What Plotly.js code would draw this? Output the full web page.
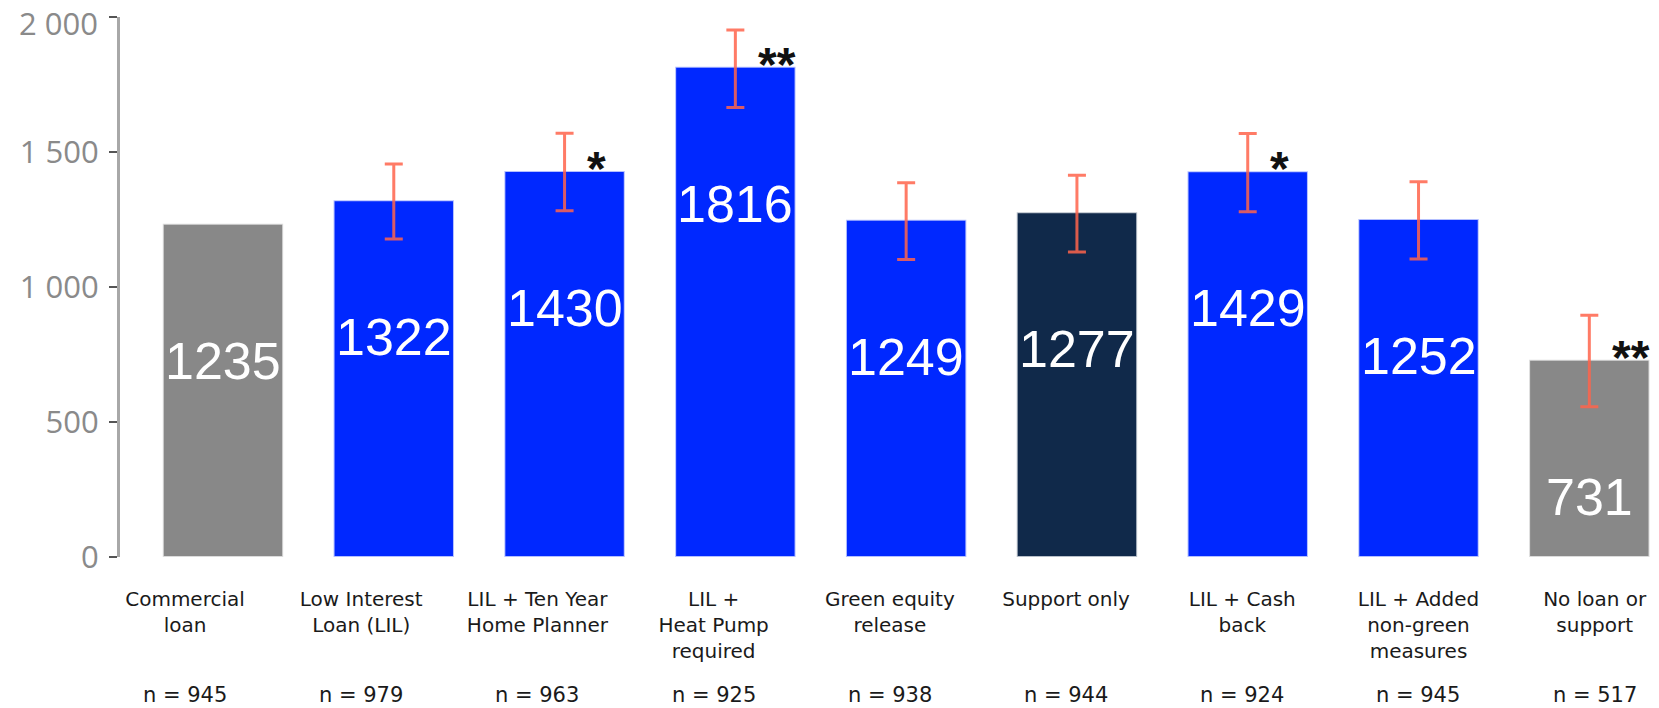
<!DOCTYPE html>
<html>
<head>
<meta charset="utf-8">
<script src="https://cdn.plot.ly/plotly-3.0.1.min.js"></script>
<style>
  html, body { margin: 0; padding: 0; background: #ffffff; }
  #chart { width: 1659px; height: 708px; }
</style>
</head>
<body>
<div id="chart"></div>
<script>
// ---- data ----
const categories = [
  "Commercial<br>loan",
  "Low Interest<br>Loan (LIL)",
  "LIL + Ten Year<br>Home Planner",
  "LIL +<br>Heat Pump<br>required",
  "Green equity<br>release",
  "Support only",
  "LIL + Cash<br>back",
  "LIL + Added<br>non-green<br>measures",
  "No loan or<br>support"
];
const values = [1235, 1322, 1430, 1816, 1249, 1277, 1429, 1252, 731];
const ciLow  = [NaN, 1178, 1283, 1665, 1102, 1130, 1279, 1104, 557];
const ciHigh = [NaN, 1456, 1570, 1952, 1386, 1414, 1569, 1390, 896];
const sampleSizes = [945, 979, 963, 925, 938, 944, 924, 945, 517];
const significance = ["", "", "*", "**", "", "", "*", "", "**"];
const yTickValues = [0, 500, 1000, 1500, 2000];
const yTickLabels = ["0", "500", "1 000", "1 500", "2 000"];

// ---- styles ----
const GREY = "#888888", BLUE = "#0028ff", NAVY = "#10294a";
const barColors = [GREY, BLUE, BLUE, BLUE, BLUE, NAVY, BLUE, BLUE, GREY];
const LABEL_DROP = 508;     // data units below bar top for the value label
const STAR_DX = 0.12;       // category units right of bar centre
const LABEL_FONT = "DejaVu Sans, sans-serif";
const YTICK_FONT = { family: "Open Sans, sans-serif", size: 31, color: "#8a8a8a" };

const xIdx = categories.map((_, i) => i);
const lastTick = yTickValues.length - 1;

const barTrace = {
  type: "bar",
  x: xIdx,
  y: values,
  width: 0.705,
  marker: {
    color: barColors,
    line: { color: "rgba(255,255,255,0.7)", width: 2 }
  },
  error_y: {
    type: "data",
    symmetric: false,
    array: values.map((v, i) => ciHigh[i] - v),
    arrayminus: values.map((v, i) => v - ciLow[i]),
    color: "rgba(255,100,75,0.85)",
    thickness: 3,
    width: 9
  },
  hoverinfo: "skip"
};

// invisible trace on the label axis so it is drawn
const labelAxisTrace = {
  type: "scatter", mode: "markers",
  x: xIdx, y: values.map(() => 0),
  xaxis: "x2", yaxis: "y",
  marker: { opacity: 0, size: 1 },
  hoverinfo: "skip"
};

const annotations = [];
values.forEach((v, i) => {
  annotations.push({
    x: i, y: v - LABEL_DROP, xref: "x", yref: "y",
    text: String(v), showarrow: false,
    xanchor: "center", yanchor: "middle",
    font: { family: "Liberation Sans, Arial, sans-serif", size: 52, color: "#ffffff" }
  });
  annotations.push({
    x: i, y: -0.255, xref: "x2", yref: "paper",
    text: "n = " + sampleSizes[i], showarrow: false,
    xanchor: "center", yanchor: "middle",
    font: { family: LABEL_FONT, size: 21, color: "#1a1a1a" }
  });
  if (significance[i]) {
    annotations.push({
      x: i + STAR_DX, y: v, xref: "x", yref: "y",
      text: significance[i], showarrow: false,
      xanchor: "left", yanchor: "bottom", yshift: -26,
      font: { family: "Liberation Sans, Arial, sans-serif", size: 48, color: "#111111", weight: "bold" }
    });
  }
});
// top y tick label, nudged down so it stays inside the page
annotations.push({
  x: 0, y: yTickValues[lastTick], xref: "paper", yref: "y",
  text: yTickLabels[lastTick], showarrow: false,
  xanchor: "right", yanchor: "middle", xshift: -20, yshift: -6,
  font: YTICK_FONT
});

const layout = {
  width: 1659, height: 708,
  margin: { l: 120, r: 0, t: 17, b: 151, pad: 0 },
  paper_bgcolor: "#ffffff",
  plot_bgcolor: "#ffffff",
  showlegend: false,
  font: { family: LABEL_FONT, color: "#1a1a1a" },
  xaxis: {
    range: [-0.603, 8.408],
    showticklabels: false,
    ticks: "",
    showline: false,
    showgrid: false,
    zeroline: false,
    fixedrange: true
  },
  xaxis2: {
    overlaying: "x",
    anchor: "y",
    side: "bottom",
    range: [-0.369, 8.365],
    tickvals: xIdx,
    ticktext: categories,
    ticks: "",
    showline: false,
    showgrid: false,
    zeroline: false,
    ticklabelstandoff: 28,
    ticklabeloverflow: "allow",
    tickfont: { family: LABEL_FONT, size: 20, color: "#1a1a1a" },
    fixedrange: true
  },
  yaxis: {
    range: [0, 2000.5],
    tickvals: yTickValues,
    ticktext: yTickLabels.map((t, i) => i === lastTick ? "" : t),
    ticks: "outside",
    ticklen: 8,
    tickwidth: 2,
    tickcolor: "#555555",
    showline: true,
    linecolor: "#a8a8a8",
    linewidth: 3,
    showgrid: false,
    zeroline: false,
    ticklabelstandoff: 4,
    ticklabeloverflow: "allow",
    tickfont: YTICK_FONT,
    fixedrange: true
  },
  annotations: annotations
};

Plotly.newPlot("chart", [barTrace, labelAxisTrace], layout, { displayModeBar: false, staticPlot: true });
</script>
</body>
</html>
